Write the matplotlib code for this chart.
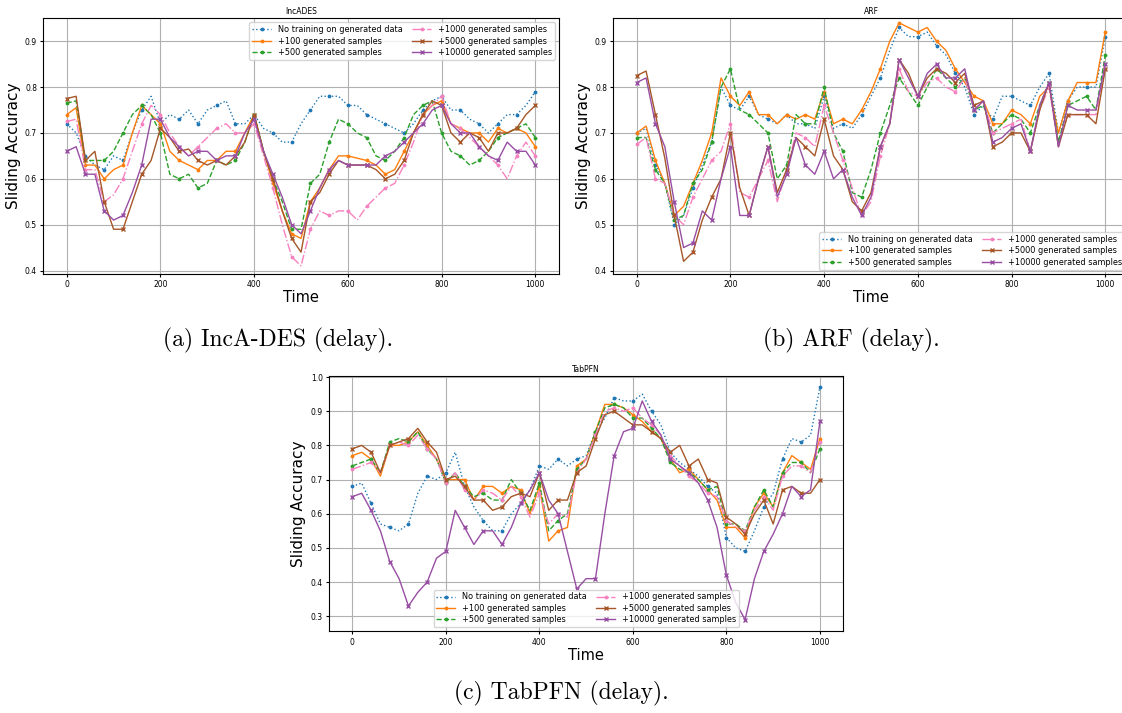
import numpy as np
import matplotlib.pyplot as plt

# time axis, values read every 20 steps
time = list(range(0, 1001, 20))

labels = ["No training on generated data", "+100 generated samples",
          "+500 generated samples", "+1000 generated samples",
          "+5000 generated samples", "+10000 generated samples"]

# IncA-DES
incades_none = [0.72, 0.70, 0.65, 0.63, 0.62, 0.65, 0.64, 0.70, 0.75, 0.78, 0.72, 0.74, 0.73, 0.75, 0.72, 0.75,
                0.76, 0.77, 0.72, 0.72, 0.74, 0.71, 0.70, 0.68, 0.68, 0.72, 0.75, 0.78, 0.78, 0.78, 0.76, 0.76,
                0.74, 0.73, 0.72, 0.71, 0.70, 0.72, 0.75, 0.77, 0.78, 0.75, 0.75, 0.73, 0.72, 0.70, 0.72, 0.74,
                0.74, 0.76, 0.79]
incades_100 = [0.74, 0.755, 0.63, 0.63, 0.60, 0.62, 0.63, 0.70, 0.76, 0.74, 0.72, 0.66, 0.64, 0.63, 0.62, 0.64,
               0.64, 0.66, 0.66, 0.70, 0.74, 0.66, 0.59, 0.53, 0.48, 0.47, 0.55, 0.58, 0.62, 0.65, 0.65, 0.645,
               0.64, 0.63, 0.61, 0.62, 0.66, 0.70, 0.74, 0.76, 0.77, 0.72, 0.71, 0.70, 0.70, 0.68, 0.71, 0.70,
               0.71, 0.70, 0.67]
incades_500 = [0.765, 0.77, 0.64, 0.64, 0.64, 0.66, 0.70, 0.74, 0.76, 0.74, 0.70, 0.61, 0.60, 0.61, 0.58, 0.59,
               0.64, 0.63, 0.64, 0.68, 0.74, 0.66, 0.60, 0.55, 0.49, 0.49, 0.59, 0.61, 0.68, 0.73, 0.72, 0.70,
               0.69, 0.65, 0.64, 0.66, 0.69, 0.74, 0.76, 0.77, 0.70, 0.66, 0.65, 0.63, 0.64, 0.66, 0.69, 0.70,
               0.71, 0.72, 0.69]
incades_1000 = [0.725, 0.73, 0.62, 0.62, 0.55, 0.565, 0.60, 0.66, 0.72, 0.76, 0.74, 0.70, 0.67, 0.65, 0.67, 0.69,
                0.71, 0.72, 0.70, 0.70, 0.72, 0.65, 0.58, 0.50, 0.43, 0.41, 0.49, 0.53, 0.52, 0.53, 0.53, 0.51,
                0.54, 0.56, 0.58, 0.59, 0.63, 0.68, 0.74, 0.76, 0.78, 0.72, 0.71, 0.69, 0.67, 0.65, 0.63, 0.60,
                0.65, 0.68, 0.65]
incades_5000 = [0.775, 0.78, 0.64, 0.66, 0.55, 0.49, 0.49, 0.55, 0.61, 0.64, 0.71, 0.69, 0.66, 0.665, 0.64, 0.63,
                0.64, 0.63, 0.65, 0.68, 0.74, 0.66, 0.60, 0.53, 0.47, 0.44, 0.55, 0.57, 0.61, 0.64, 0.63, 0.63,
                0.63, 0.62, 0.60, 0.61, 0.64, 0.70, 0.74, 0.77, 0.76, 0.70, 0.68, 0.70, 0.69, 0.66, 0.70, 0.70,
                0.71, 0.74, 0.76]
incades_10000 = [0.66, 0.67, 0.61, 0.61, 0.53, 0.51, 0.52, 0.57, 0.63, 0.73, 0.73, 0.69, 0.67, 0.65, 0.66, 0.66,
                 0.64, 0.65, 0.65, 0.70, 0.73, 0.66, 0.61, 0.56, 0.50, 0.48, 0.53, 0.58, 0.62, 0.64, 0.63, 0.63,
                 0.63, 0.63, 0.65, 0.66, 0.68, 0.70, 0.72, 0.75, 0.76, 0.72, 0.70, 0.70, 0.67, 0.65, 0.64, 0.68,
                 0.66, 0.66, 0.63]

# ARF
arf_none = [0.70, 0.71, 0.63, 0.59, 0.50, 0.52, 0.58, 0.63, 0.68, 0.80, 0.76, 0.75, 0.78, 0.74, 0.73, 0.72,
            0.74, 0.72, 0.72, 0.71, 0.78, 0.71, 0.72, 0.71, 0.74, 0.78, 0.82, 0.88, 0.93, 0.91, 0.91, 0.92,
            0.89, 0.87, 0.83, 0.80, 0.74, 0.76, 0.73, 0.78, 0.78, 0.77, 0.76, 0.80, 0.83, 0.70, 0.77, 0.80,
            0.80, 0.80, 0.91]
arf_100 = [0.70, 0.715, 0.64, 0.59, 0.52, 0.54, 0.59, 0.64, 0.70, 0.82, 0.78, 0.76, 0.79, 0.74, 0.74, 0.72,
           0.74, 0.73, 0.74, 0.73, 0.79, 0.72, 0.73, 0.72, 0.75, 0.79, 0.84, 0.90, 0.94, 0.93, 0.92, 0.93,
           0.90, 0.88, 0.84, 0.81, 0.78, 0.77, 0.72, 0.72, 0.75, 0.74, 0.72, 0.78, 0.80, 0.70, 0.77, 0.81,
           0.81, 0.81, 0.92]
arf_500 = [0.69, 0.69, 0.62, 0.59, 0.51, 0.52, 0.59, 0.62, 0.68, 0.80, 0.84, 0.75, 0.74, 0.72, 0.70, 0.60,
           0.63, 0.74, 0.72, 0.72, 0.80, 0.70, 0.66, 0.57, 0.56, 0.62, 0.70, 0.76, 0.82, 0.79, 0.76, 0.80,
           0.84, 0.82, 0.80, 0.82, 0.75, 0.76, 0.70, 0.72, 0.74, 0.73, 0.70, 0.76, 0.81, 0.68, 0.76, 0.77,
           0.78, 0.75, 0.87]
arf_1000 = [0.675, 0.69, 0.60, 0.59, 0.52, 0.50, 0.56, 0.60, 0.64, 0.66, 0.72, 0.57, 0.56, 0.60, 0.64, 0.55,
            0.62, 0.70, 0.69, 0.67, 0.76, 0.70, 0.64, 0.58, 0.52, 0.55, 0.65, 0.72, 0.84, 0.79, 0.78, 0.81,
            0.82, 0.80, 0.79, 0.82, 0.75, 0.77, 0.70, 0.71, 0.72, 0.73, 0.66, 0.75, 0.80, 0.67, 0.74, 0.74,
            0.74, 0.74, 0.84]
arf_5000 = [0.825, 0.835, 0.74, 0.645, 0.52, 0.42, 0.44, 0.51, 0.56, 0.60, 0.70, 0.58, 0.52, 0.60, 0.67, 0.57,
            0.62, 0.69, 0.67, 0.65, 0.73, 0.65, 0.62, 0.55, 0.53, 0.57, 0.67, 0.72, 0.86, 0.83, 0.78, 0.82,
            0.84, 0.83, 0.81, 0.83, 0.76, 0.77, 0.67, 0.68, 0.70, 0.70, 0.66, 0.75, 0.81, 0.67, 0.74, 0.74,
            0.74, 0.72, 0.84]
arf_10000 = [0.81, 0.82, 0.72, 0.67, 0.55, 0.45, 0.46, 0.53, 0.51, 0.60, 0.67, 0.52, 0.52, 0.60, 0.67, 0.56,
             0.61, 0.69, 0.63, 0.61, 0.66, 0.60, 0.62, 0.56, 0.52, 0.56, 0.67, 0.72, 0.86, 0.82, 0.78, 0.83,
             0.85, 0.82, 0.82, 0.84, 0.75, 0.77, 0.68, 0.69, 0.71, 0.72, 0.66, 0.76, 0.81, 0.67, 0.76, 0.75,
             0.75, 0.75, 0.85]

# TabPFN
tabpfn_none = [0.68, 0.69, 0.63, 0.57, 0.56, 0.55, 0.57, 0.66, 0.71, 0.70, 0.72, 0.78, 0.68, 0.62, 0.58, 0.55,
               0.55, 0.60, 0.63, 0.67, 0.74, 0.73, 0.76, 0.74, 0.76, 0.77, 0.84, 0.88, 0.94, 0.93, 0.93, 0.95,
               0.90, 0.86, 0.78, 0.75, 0.73, 0.71, 0.68, 0.66, 0.53, 0.50, 0.49, 0.55, 0.62, 0.66, 0.76, 0.82,
               0.81, 0.83, 0.97]
tabpfn_100 = [0.77, 0.78, 0.76, 0.71, 0.80, 0.80, 0.81, 0.84, 0.80, 0.76, 0.70, 0.70, 0.70, 0.64, 0.68, 0.68,
              0.66, 0.68, 0.67, 0.60, 0.68, 0.52, 0.55, 0.56, 0.74, 0.76, 0.84, 0.92, 0.92, 0.91, 0.89, 0.87,
              0.84, 0.82, 0.76, 0.72, 0.73, 0.70, 0.67, 0.64, 0.56, 0.56, 0.53, 0.62, 0.66, 0.62, 0.72, 0.77,
              0.75, 0.73, 0.82]
tabpfn_500 = [0.74, 0.75, 0.76, 0.72, 0.81, 0.82, 0.81, 0.84, 0.79, 0.76, 0.69, 0.72, 0.68, 0.65, 0.66, 0.64,
              0.64, 0.70, 0.66, 0.61, 0.69, 0.55, 0.58, 0.60, 0.73, 0.76, 0.84, 0.91, 0.92, 0.91, 0.88, 0.88,
              0.85, 0.82, 0.75, 0.73, 0.72, 0.70, 0.67, 0.68, 0.57, 0.57, 0.55, 0.62, 0.67, 0.62, 0.72, 0.75,
              0.75, 0.72, 0.79]
tabpfn_1000 = [0.73, 0.74, 0.75, 0.72, 0.80, 0.81, 0.80, 0.83, 0.79, 0.76, 0.69, 0.72, 0.67, 0.64, 0.67, 0.66,
               0.64, 0.68, 0.65, 0.59, 0.66, 0.57, 0.60, 0.59, 0.72, 0.76, 0.83, 0.90, 0.91, 0.90, 0.91, 0.88,
               0.86, 0.83, 0.77, 0.74, 0.71, 0.69, 0.66, 0.65, 0.58, 0.56, 0.55, 0.61, 0.65, 0.61, 0.71, 0.74,
               0.74, 0.72, 0.81]
tabpfn_5000 = [0.79, 0.80, 0.78, 0.72, 0.80, 0.81, 0.82, 0.85, 0.81, 0.78, 0.70, 0.71, 0.68, 0.64, 0.64, 0.61,
               0.62, 0.65, 0.66, 0.65, 0.72, 0.61, 0.64, 0.64, 0.72, 0.74, 0.82, 0.89, 0.90, 0.88, 0.86, 0.86,
               0.84, 0.82, 0.78, 0.80, 0.74, 0.76, 0.70, 0.69, 0.59, 0.57, 0.54, 0.60, 0.64, 0.57, 0.67, 0.68,
               0.66, 0.66, 0.70]
tabpfn_10000 = [0.65, 0.66, 0.61, 0.55, 0.46, 0.41, 0.33, 0.37, 0.40, 0.47, 0.49, 0.61, 0.56, 0.51, 0.55, 0.55,
                0.51, 0.56, 0.63, 0.67, 0.72, 0.64, 0.60, 0.49, 0.38, 0.41, 0.41, 0.60, 0.77, 0.84, 0.85, 0.93,
                0.87, 0.83, 0.76, 0.74, 0.72, 0.69, 0.64, 0.56, 0.42, 0.34, 0.29, 0.41, 0.49, 0.54, 0.60, 0.68,
                0.65, 0.67, 0.87]

colors = ["#1f77b4", "#ff7f0e", "#2ca02c", "#f781bf", "#a65628", "#984ea3"]
styles = [":", "-", "--", "-.", "-", "-"]
markers = [".", ".", ".", ".", "x", "x"]


def draw(ax, series, title, legend_loc, ylim=None):
    for y, c, ls, m, lab in zip(series, colors, styles, markers, labels):
        ax.plot(time, y, color=c, linestyle=ls, marker=m, markersize=3.5 if m == "." else 3,
                markevery=2, linewidth=1.0, label=lab)
    ax.set_title(title, fontsize=5.5, pad=3)
    ax.set_xlabel("Time", fontsize=10.5, labelpad=1)
    ax.set_ylabel("Sliding Accuracy", fontsize=11, labelpad=3)
    ax.tick_params(labelsize=5.5, length=2.5, pad=2)
    ax.grid(True)
    ax.set_xlim(-50, 1050)
    if ylim:
        ax.set_ylim(*ylim)
    ax.legend(loc=legend_loc, ncol=2, fontsize=5.9, handlelength=2.3,
              columnspacing=1.2, labelspacing=0.3, borderpad=0.35)


fig = plt.figure(figsize=(11.22, 7.13), dpi=100)
ax_a = fig.add_axes([0.0386, 0.6161, 0.4594, 0.3582])
ax_b = fig.add_axes([0.5466, 0.6161, 0.4594, 0.3582])
ax_c = fig.add_axes([0.2932, 0.1146, 0.4584, 0.3585])

draw(ax_a, [incades_none, incades_100, incades_500, incades_1000, incades_5000, incades_10000],
     "IncADES", "upper right", ylim=(0.393, 0.95))
draw(ax_b, [arf_none, arf_100, arf_500, arf_1000, arf_5000, arf_10000],
     "ARF", "lower right", ylim=(0.393, 0.95))
draw(ax_c, [tabpfn_none, tabpfn_100, tabpfn_500, tabpfn_1000, tabpfn_5000, tabpfn_10000],
     "TabPFN", "lower center")

cap = dict(fontsize=17, family="cmr10", ha="center", va="center")
fig.text(278 / 1122, 1 - 340 / 713, "(a) IncA-DES (delay).", **cap)
fig.text(851 / 1122, 1 - 340 / 713, "(b) ARF (delay).", **cap)
fig.text(561 / 1122, 1 - 693 / 713, "(c) TabPFN (delay).", **cap)

fig.savefig("out.png", dpi=100)
